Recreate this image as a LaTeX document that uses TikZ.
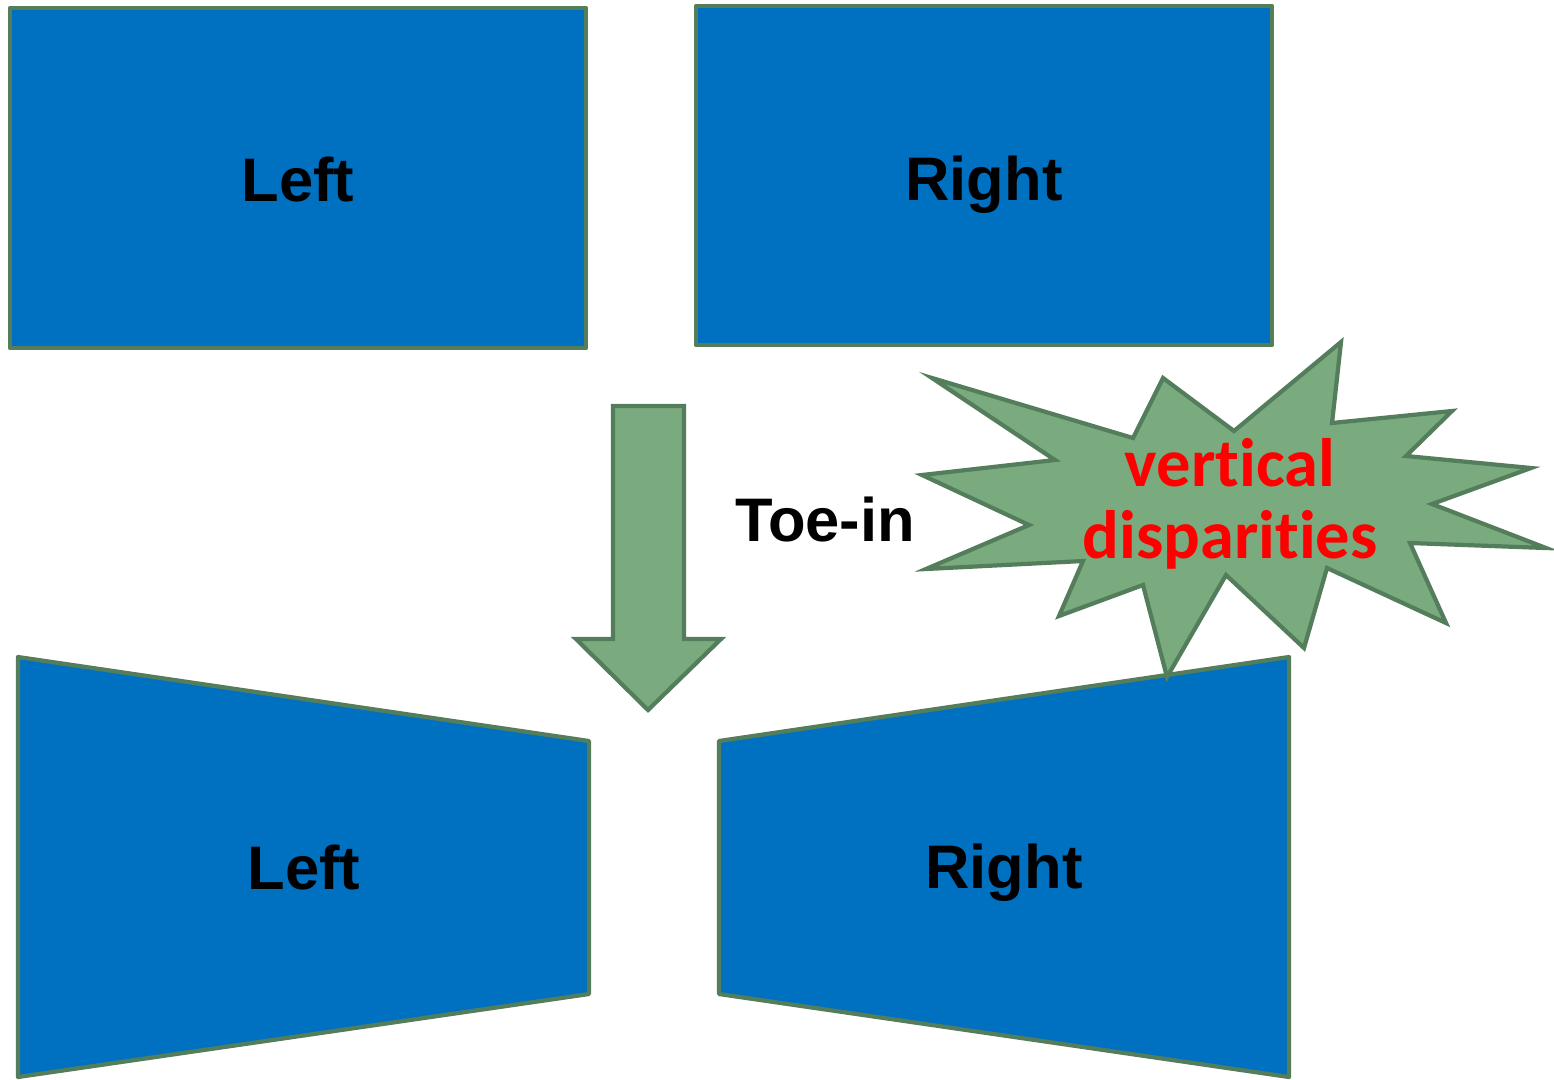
\documentclass[tikz,border=0pt]{standalone}
\usepackage{fontspec}
\setmainfont{Liberation Sans}
\newfontfamily\carl[Ligatures=NoCommon]{Carlito}
\definecolor{boxblue}{HTML}{0070C0}
\definecolor{edgegreen}{HTML}{547D5C}
\definecolor{fillgreen}{HTML}{7AAB7E}
\definecolor{txtred}{HTML}{FF0000}
\begin{document}
\begin{tikzpicture}[x=0.02cm,y=-0.02cm,
  panel/.style={fill=boxblue,draw=edgegreen,line width=2.4pt,line join=round},
  greenshape/.style={fill=fillgreen,draw=edgegreen,line width=2.4pt,line join=miter},
  lbl/.style={font=\fontsize{35}{40}\selectfont\bfseries,text=black},
  redlbl/.style={font=\carl\fontsize{39}{40}\selectfont\bfseries,text=txtred}]
\useasboundingbox (0,0) rectangle (1554,1079);
% top panels
\draw[panel] (10,8) rectangle (586,348);
\draw[panel] (696,6) rectangle (1272,345);
% bottom panels
\draw[panel] (18,657) -- (589,741) -- (589,994) -- (18,1077) -- cycle;
\draw[panel] (719,741) -- (1289,657) -- (1289,1077) -- (719,994) -- cycle;
% arrow
\draw[greenshape] (613,406) -- (684,406) -- (684,639) -- (721,639) -- (648,710) -- (576,639) -- (613,639) -- cycle;
% star
\draw[greenshape] (932,378) -- (1133,438) -- (1163,378) -- (1234,431) -- (1341,342) -- (1332,423)
  -- (1452,411) -- (1406,456) -- (1531,468) -- (1432,504) -- (1546,548) -- (1410,543)
  -- (1446,623) -- (1327,568) -- (1304,648) -- (1226,575) -- (1167,677) -- (1143,585)
  -- (1059,616) -- (1083,561) -- (926,569) -- (1029,525) -- (922,475) -- (1055,460) -- cycle;
% labels
\node[lbl] (tl) at (298,180) {Left};
\node[lbl] (tr) at (984,185) {Right};
\node[lbl] (bl) at (304,868) {Left};
\node[lbl] (br) at (1004,873) {Right};
\node[lbl] (toe) at (825,520) {Toe-in};
\node[redlbl] (v1) at (1230,463) {vertical};
\node[redlbl] (v2) at (1230,540) {disparities};
\end{tikzpicture}
\end{document}
